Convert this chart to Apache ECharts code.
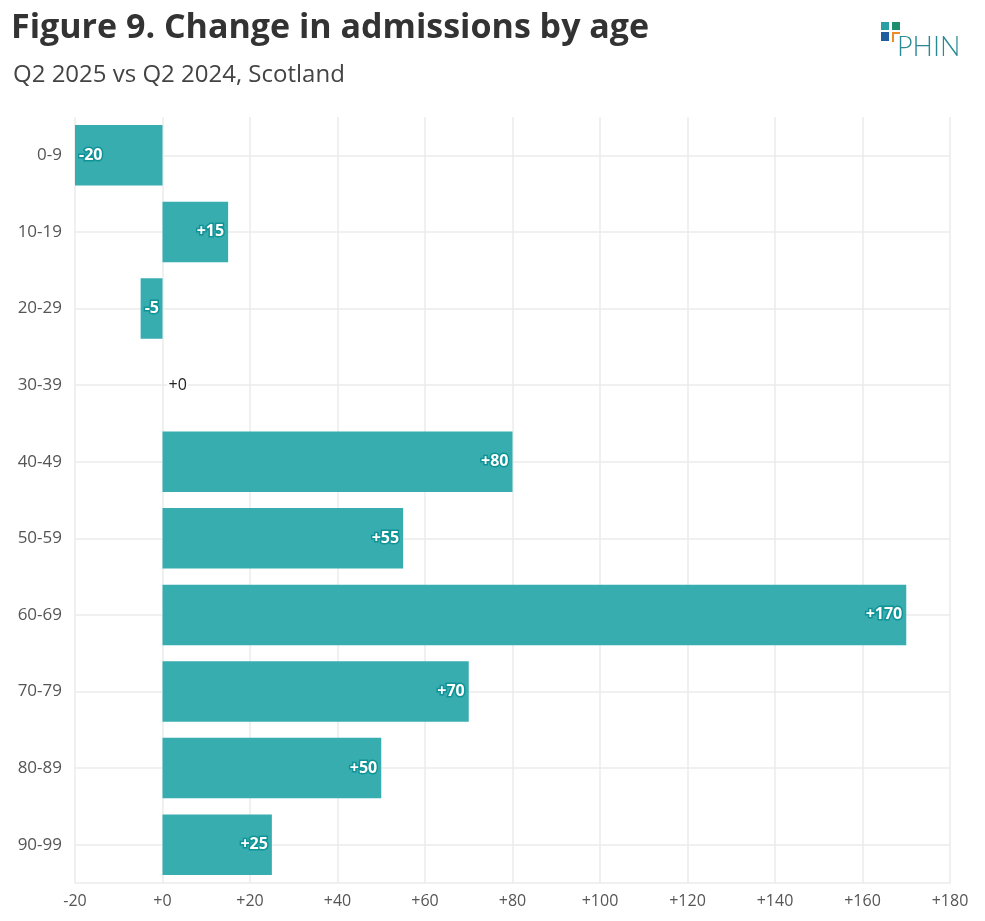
<!DOCTYPE html>
<html>
<head>
<meta charset="utf-8">
<script src="https://cdn.jsdelivr.net/npm/echarts@6/dist/echarts.min.js"></script>
<style>
  html, body { margin: 0; padding: 0; background: #fff; }
  #chart { width: 985px; height: 921px; }
</style>
</head>
<body>
<div id="chart"></div>
<script>
// age bands, top to bottom
const ageBands = ['0-9', '10-19', '20-29', '30-39', '40-49', '50-59', '60-69', '70-79', '80-89', '90-99'];
// change in admissions, Q2 2025 vs Q2 2024
const changes = [-20, 15, -5, 0, 80, 55, 170, 70, 50, 25];

const TEAL = '#37adb0';
const GRID = '#ebebeb';
const fmt = v => (v >= 0 ? '+' : '') + v;

const chart = echarts.init(document.getElementById('chart'));

// label placement depends on sign of the value
const barData = changes.map(v => {
  if (v === 0) {
    return {
      value: v,
      label: {
        position: 'right', distance: 6, color: '#222', fontWeight: 500,
        textBorderColor: '#fff', textBorderWidth: 4
      }
    };
  }
  return { value: v, label: { position: v < 0 ? 'insideLeft' : 'insideRight' } };
});

const option = {
  animation: false,
  title: [
    {
      text: 'Figure 9. Change in admissions by age',
      left: 6, top: 6,
      textStyle: { fontFamily: 'Open Sans', fontSize: 34, fontWeight: 'bold', color: '#333' }
    },
    {
      text: 'Q2 2025 vs Q2 2024, Scotland',
      left: 8, top: 58,
      textStyle: { fontFamily: 'Open Sans', fontSize: 24, fontWeight: 'normal', color: '#444' }
    }
  ],
  graphic: [
    { type: 'rect', shape: { x: 881, y: 22, width: 8, height: 8 }, style: { fill: '#2a9fa3' } },
    { type: 'rect', shape: { x: 892, y: 22, width: 8, height: 8 }, style: { fill: '#1e8f6e' } },
    { type: 'rect', shape: { x: 881, y: 32, width: 8, height: 9 }, style: { fill: '#1f5d9c' } },
    { type: 'polyline', shape: { points: [[893, 42], [893, 33], [900, 33]] }, style: { stroke: '#f08a24', lineWidth: 2, fill: null } },
    {
      type: 'text', left: 897, top: 34,
      style: { text: 'PHIN', fill: '#2a8a94', fontFamily: 'Lato', fontSize: 27, fontWeight: 300 }
    }
  ],
  grid: { left: 75, right: 35, top: 117, bottom: 38, containLabel: false },
  xAxis: {
    type: 'value',
    min: -20, max: 180, interval: 20,
    axisLine: { show: true, onZero: false, lineStyle: { color: GRID, width: 1.5 } },
    axisTick: { show: false },
    axisLabel: { formatter: fmt, color: '#555', fontFamily: 'Open Sans', fontSize: 16, margin: 10 },
    splitLine: { lineStyle: { color: GRID, width: 1.5 } }
  },
  yAxis: {
    type: 'category',
    data: ageBands,
    inverse: true,
    axisLine: { show: false },
    axisTick: { show: false },
    axisLabel: { color: '#555', fontFamily: 'Open Sans', fontSize: 17, margin: 13 },
    splitLine: { show: false }
  },
  series: [
    {
      // horizontal guides through each band centre
      type: 'line',
      data: [],
      silent: true,
      z: 1,
      markLine: {
        silent: true,
        z: 1,
        symbol: 'none',
        label: { show: false },
        lineStyle: { color: GRID, width: 1.5, type: 'solid' },
        data: ageBands.map(a => ({ yAxis: a }))
      }
    },
    {
      type: 'bar',
      data: barData,
      barWidth: '79%',
      z: 10,
      itemStyle: { color: TEAL },
      label: {
        show: true,
        formatter: p => fmt(p.value),
        color: '#fff',
        fontFamily: 'Open Sans',
        fontWeight: 'bold',
        fontSize: 16,
        textBorderColor: '#0f9396',
        textBorderWidth: 3,
        distance: 4
      }
    }
  ]
};

chart.setOption(option);
</script>
</body>
</html>
